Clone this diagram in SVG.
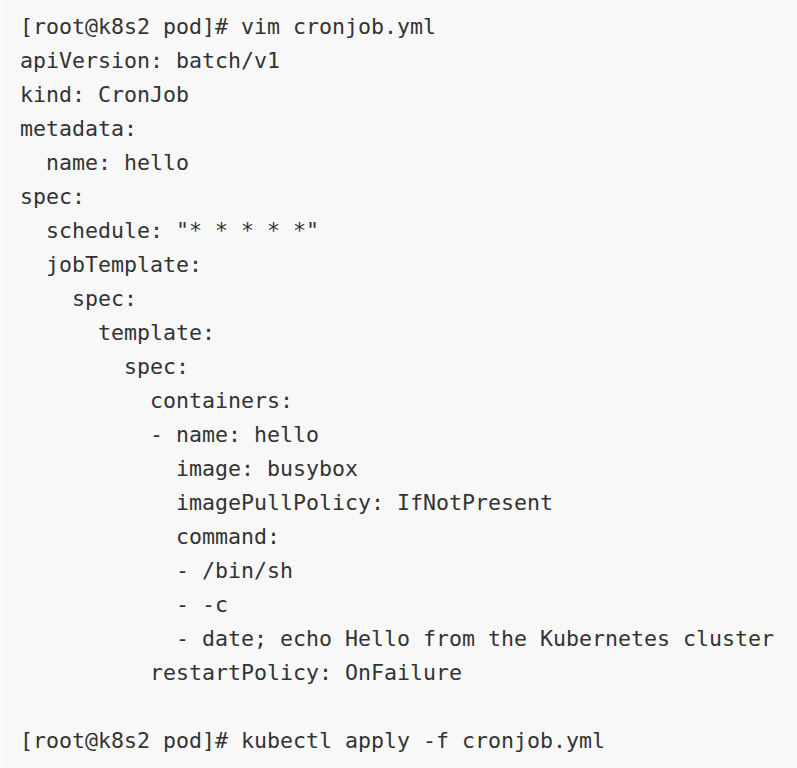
<svg xmlns="http://www.w3.org/2000/svg" width="797" height="768" viewBox="0 0 797 768">
<style>
.c{font-family:"DejaVu Sans Mono","Liberation Mono",monospace;font-size:21.6px;fill:#333333;white-space:pre}
</style>
<rect x="0" y="0" width="797" height="768" fill="#f8f8f8"/>
<rect x="0" y="0" width="2" height="768" fill="#fbfbfb"/>
<g id="code" class="c">
<text x="20" y="34">[root@k8s2 pod]# vim cronjob.yml</text>
<text x="20" y="68">apiVersion: batch/v1</text>
<text x="20" y="102">kind: CronJob</text>
<text x="20" y="136">metadata:</text>
<text x="46" y="170">name: hello</text>
<text x="20" y="204">spec:</text>
<text x="46" y="238">schedule: "* * * * *"</text>
<text x="46" y="272">jobTemplate:</text>
<text x="72" y="306">spec:</text>
<text x="98" y="340">template:</text>
<text x="124" y="374">spec:</text>
<text x="150" y="408">containers:</text>
<text x="150" y="442">- name: hello</text>
<text x="176" y="476">image: busybox</text>
<text x="176" y="510">imagePullPolicy: IfNotPresent</text>
<text x="176" y="544">command:</text>
<text x="176" y="578">- /bin/sh</text>
<text x="176" y="612">- -c</text>
<text x="176" y="646">- date; echo Hello from the Kubernetes cluster</text>
<text x="150" y="680">restartPolicy: OnFailure</text>
<text x="20" y="748">[root@k8s2 pod]# kubectl apply -f cronjob.yml</text>
</g>
</svg>
